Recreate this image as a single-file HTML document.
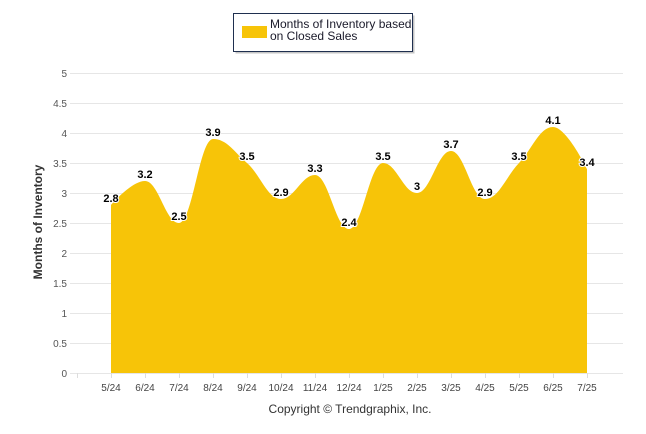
<!DOCTYPE html>
<html><head><meta charset="utf-8"><style>
html,body{margin:0;padding:0;background:#fff;}
svg{display:block;font-family:"Liberation Sans",sans-serif;}
</style></head><body>
<svg id="chart" width="646" height="434" viewBox="0 0 646 434">
<g id="grid"></g>
<g id="yticks"></g>
<g id="xticks"></g>
<path id="area" fill="#f7c408"></path>
<g id="labels"></g>
<text x="0" y="0" transform="translate(42,222) rotate(-90)" text-anchor="middle" font-size="12" font-weight="bold" fill="#333">Months of Inventory</text>
<text x="350" y="413" text-anchor="middle" font-size="12" fill="#333">Copyright © Trendgraphix, Inc.</text>
<g>
<rect x="235.5" y="15.5" width="179" height="38" fill="#555" opacity="0.35"/>
<rect x="233.5" y="13.5" width="179" height="38" fill="#fff" stroke="#1f2f4f" stroke-width="1"/>
<rect x="242" y="26" width="25" height="12" fill="#f7c408"/>
<text x="270" y="28" font-size="12" fill="#1a1a2a"><tspan x="270">Months of Inventory based</tspan><tspan x="270" dy="12">on Closed Sales</tspan></text>
</g>
</svg>
<script>
const categories=["5/24","6/24","7/24","8/24","9/24","10/24","11/24","12/24","1/25","2/25","3/25","4/25","5/25","6/25","7/25"];
const values=[2.8,3.2,2.5,3.9,3.5,2.9,3.3,2.4,3.5,3.0,3.7,2.9,3.5,4.1,3.4];
const yTicks=[0,0.5,1,1.5,2,2.5,3,3.5,4,4.5,5];
const NS="http://www.w3.org/2000/svg";
const xs=i=>111+34*i;
const ys=v=>373-60*v;
function mk(tag,attrs,parent){const e=document.createElementNS(NS,tag);for(const k in attrs)e.setAttribute(k,attrs[k]);parent.appendChild(e);return e;}
const grid=document.getElementById('grid'),yt=document.getElementById('yticks'),xt=document.getElementById('xticks'),lb=document.getElementById('labels');
yTicks.forEach(t=>{
 const l=mk('line',{x1:70,x2:623,y1:ys(t)+0.5,y2:ys(t)+0.5,stroke:'#e6e6e6','stroke-width':1},grid);
 
 
 const tx=mk('text',{x:67,y:ys(t)+4,'text-anchor':'end','font-size':10,fill:'#555'},yt);
 tx.textContent=String(t);
 
 
});
for(let i=0;i<=categories.length;i++){
 const tk=mk('line',{x1:77+34*i+0.5,x2:77+34*i+0.5,y1:373,y2:378,stroke:'#ddd'},grid);
 
 
}
categories.forEach((c,i)=>{
 const tx=mk('text',{x:xs(i),y:391,'text-anchor':'middle','font-size':10,fill:'#444'},xt);
 tx.textContent=c;
 
 
});
// Highcharts-like spline
const pts=values.map((v,i)=>[xs(i),ys(v)]);
let d=`M${pts[0][0]},${ys(0)} L${pts[0][0]},${pts[0][1]}`;
const sm=1.5,den=sm+1;
function ctrl(i){ // returns [leftCtrl,rightCtrl] for point i
 const p=pts[i];
 if(i===0||i===pts.length-1)return [p,p];
 const a=pts[i-1],b=pts[i+1];
 let lx=(sm*p[0]+a[0])/den,ly=(sm*p[1]+a[1])/den,rx=(sm*p[0]+b[0])/den,ry=(sm*p[1]+b[1])/den;
 const corr=((ry-ly)*(rx-p[0]))/(rx-lx)+p[1]-ry;
 ly+=corr;ry+=corr;
 if(ly>a[1]&&ly>p[1]){ly=Math.max(a[1],p[1]);ry=2*p[1]-ly;}else if(ly<a[1]&&ly<p[1]){ly=Math.min(a[1],p[1]);ry=2*p[1]-ly;}
 if(ry>b[1]&&ry>p[1]){ry=Math.max(b[1],p[1]);ly=2*p[1]-ry;}else if(ry<b[1]&&ry<p[1]){ry=Math.min(b[1],p[1]);ly=2*p[1]-ry;}
 return [[lx,ly],[rx,ry]];
}
for(let i=1;i<pts.length;i++){
 const c1=ctrl(i-1)[1],c2=ctrl(i)[0];
 d+=` C${c1[0]},${c1[1]} ${c2[0]},${c2[1]} ${pts[i][0]},${pts[i][1]}`;
}
d+=` L${pts[pts.length-1][0]},${ys(0)} Z`;
document.getElementById('area').setAttribute('d',d);
values.forEach((v,i)=>{
 const tx=mk('text',{x:xs(i),y:ys(v)-3,'text-anchor':'middle','font-size':11,'font-weight':'bold',fill:'#000',stroke:'#fff','stroke-width':2,'paint-order':'stroke'},lb);
 tx.textContent=String(v);
 
 
});
</script>
</body></html>
